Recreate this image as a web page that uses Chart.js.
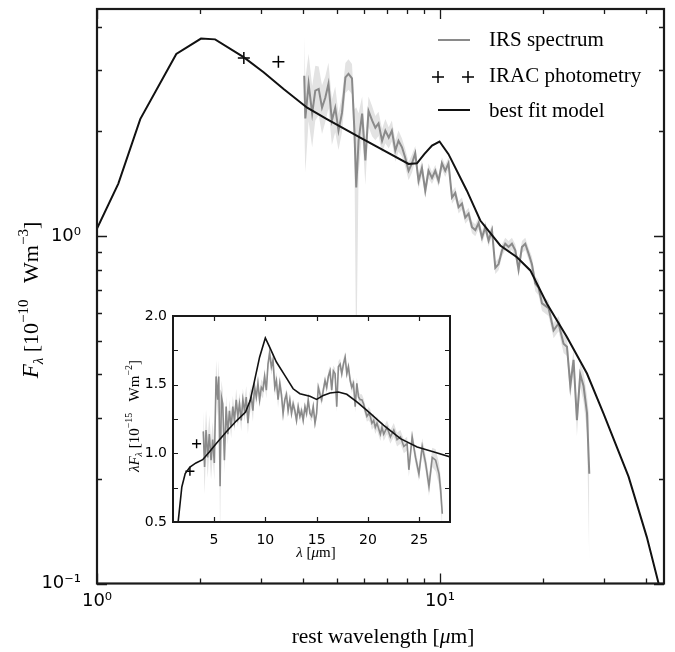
<!DOCTYPE html>
<html>
<head>
<meta charset="utf-8">
<script src="https://cdn.jsdelivr.net/npm/chart.js@4.4.1/dist/chart.umd.min.js"></script>
<style>
  html, body { margin: 0; padding: 0; background: #fff; }
  #wrap { position: relative; width: 675px; height: 652px; }
  canvas { position: absolute; left: 0; top: 0; }
</style>
</head>
<body>
<div id="wrap">
  <canvas id="main" width="675" height="652"></canvas>
  <canvas id="inset" width="675" height="652"></canvas>
</div>
<script>
// ---- main panel: F_lambda vs rest wavelength (log-log) ----
const modelWave = [1.0, 1.154, 1.337, 1.703, 2.01, 2.21, 2.676, 3.06, 3.50, 4.10, 4.68, 5.855, 8.10, 8.57, 9.0,
  9.48, 9.97, 10.59, 11.98, 13.11, 14.99, 16.77, 18.34, 20.51, 23.45, 26.83, 29.99, 35.47, 40.1, 43.4, 45.5];
const modelFlux = [1.05, 1.415, 2.17, 3.34, 3.70, 3.68, 3.27, 2.96, 2.65, 2.34, 2.17, 1.92, 1.612, 1.619, 1.72,
  1.82, 1.87, 1.72, 1.35, 1.108, 0.939, 0.869, 0.796, 0.638, 0.512, 0.402, 0.308, 0.203, 0.136, 0.1, 0.085];

const iracWave = [2.68, 3.38];
const iracFlux = [3.25, 3.17];

const irsWave = [
  4.02, 4.05, 4.14, 4.24, 4.33, 4.43, 4.53, 4.63, 4.73, 4.84,
  4.95, 5.06, 5.18, 5.30, 5.41, 5.54, 5.63, 5.70, 5.79, 5.93,
  6.06, 6.19, 6.34, 6.48, 6.62, 6.78, 6.93, 7.09, 7.24, 7.41,
  7.57, 7.75, 7.92, 8.10, 8.29, 8.47, 8.66, 8.86, 9.06, 9.26,
  9.48, 9.69, 9.91, 10.13, 10.36, 10.59, 10.84, 11.08, 11.33, 11.59,
  11.85, 12.12, 12.40, 12.68, 12.96, 13.26, 13.56, 13.86, 14.18, 14.50,
  14.82, 15.17, 15.50, 15.85, 16.21, 16.58, 16.95, 17.34, 17.73, 18.13,
  18.54, 18.96, 19.39, 19.84, 20.73, 21.44, 22.17, 22.93, 23.46, 23.99,
  24.52, 25.08, 25.64, 26.22, 26.83, 27.25];
const irsFlux = [
  2.89, 2.18, 2.74, 2.25, 2.62, 2.65, 2.34, 2.50, 2.74, 2.15,
  2.34, 2.01, 2.26, 2.86, 2.93, 2.84, 2.01, 1.38, 1.88, 2.25,
  1.65, 2.29, 2.15, 2.05, 2.11, 1.88, 2.01, 1.92, 2.01, 1.76,
  1.88, 1.80, 1.68, 1.54, 1.62, 1.73, 1.44, 1.57, 1.35, 1.54,
  1.47, 1.54, 1.44, 1.62, 1.54, 1.62, 1.29, 1.33, 1.21, 1.24,
  1.13, 1.16, 1.06, 1.04, 1.09, 0.99, 1.06, 0.97, 1.04, 0.81,
  0.83, 0.91, 0.95, 0.93, 0.95, 0.91, 0.80, 0.93, 0.95, 0.89,
  0.83, 0.73, 0.71, 0.64, 0.62, 0.535, 0.56, 0.49, 0.48, 0.37,
  0.44, 0.295, 0.40, 0.37, 0.31, 0.207];
// relative half-width of the shaded uncertainty band
const irsErr = [
  0.30, 0.30, 0.22, 0.20, 0.18, 0.16, 0.16, 0.15, 0.15, 0.15,
  0.15, 0.12, 0.12, 0.10, 0.10, 0.10, 0.15, 0.70, 0.20, 0.12,
  0.15, 0.10, 0.10, 0.08, 0.08, 0.08, 0.08, 0.07, 0.07, 0.07,
  0.07, 0.06, 0.06, 0.06, 0.06, 0.05, 0.05, 0.05, 0.05, 0.05,
  0.04, 0.04, 0.04, 0.04, 0.04, 0.04, 0.04, 0.04, 0.04, 0.04,
  0.04, 0.04, 0.04, 0.04, 0.04, 0.04, 0.04, 0.04, 0.04, 0.04,
  0.04, 0.04, 0.04, 0.04, 0.04, 0.04, 0.05, 0.04, 0.04, 0.04,
  0.05, 0.05, 0.05, 0.05, 0.05, 0.05, 0.05, 0.06, 0.06, 0.08,
  0.07, 0.10, 0.08, 0.10, 0.12, 0.45];

const xMajorTicks = [1, 10];
const xTickLabels = ['10\u2070', '10\u00b9'];
const xMinorTicks = [2, 3, 4, 5, 6, 7, 8, 9, 20, 30, 40];
const yMajorTicks = [0.1, 1];
const yTickLabels = ['10\u207b\u00b9', '10\u2070'];
const yMinorTicks = [0.2, 0.3, 0.4, 0.5, 0.6, 0.7, 0.8, 0.9, 2, 3, 4];

// ---- inset: lambda F_lambda vs lambda (linear) ----
const insetModelWave = [1.34, 1.50, 1.86, 2.19, 2.65, 3.24, 3.89, 4.54, 5.20, 6.18, 7.16, 8.07, 8.53, 8.95, 9.44,
  10.0, 10.42, 11.08, 11.90, 12.71, 13.37, 14.35, 15.0, 15.65, 16.31, 17.12, 17.94, 18.92, 19.9, 21.54,
  23.17, 24.8, 26.44, 28.07];
const insetModelFlux = [0.29, 0.50, 0.755, 0.852, 0.90, 0.93, 0.954, 1.01, 1.07, 1.155, 1.235, 1.30, 1.386, 1.53, 1.70,
  1.84, 1.774, 1.665, 1.568, 1.47, 1.434, 1.415, 1.393, 1.422, 1.439, 1.447, 1.43, 1.374, 1.313, 1.204,
  1.107, 1.046, 1.01, 0.973];

const insetIracWave = [2.65, 3.30];
const insetIracFlux = [0.87, 1.07];

const insetWave = [
  3.95, 4.08, 4.22, 4.38, 4.54, 4.71, 4.87, 5.03, 5.20, 5.36,
  5.46, 5.59, 5.72, 5.85, 6.01, 6.18, 6.34, 6.50, 6.67, 6.83,
  6.99, 7.16, 7.32, 7.48, 7.65, 7.81, 7.97, 8.14, 8.30, 8.46,
  8.63, 8.79, 8.95, 9.12, 9.28, 9.44, 9.61, 9.77, 9.93, 10.10,
  10.26, 10.42, 10.59, 10.75, 10.92, 11.08, 11.24, 11.41, 11.57, 11.73,
  11.90, 12.06, 12.22, 12.39, 12.55, 12.71, 12.88, 13.04, 13.20, 13.37,
  13.53, 13.69, 13.86, 14.02, 14.18, 14.35, 14.51, 14.67, 14.84, 15.00,
  15.16, 15.33, 15.49, 15.65, 15.82, 15.98, 16.14, 16.31, 16.47, 16.63,
  16.80, 16.96, 17.12, 17.29, 17.45, 17.61, 17.78, 17.94, 18.10, 18.27,
  18.43, 18.59, 18.76, 18.92, 19.08, 19.25, 19.41, 19.58, 19.74, 19.90,
  20.07, 20.23, 20.39, 20.56, 20.72, 20.88, 21.21, 21.37, 21.54, 21.86,
  22.19, 22.52, 22.84, 23.17, 23.50, 23.82, 23.99, 24.31, 24.64, 24.97,
  25.29, 25.62, 25.95, 26.27, 26.60, 26.93, 27.09, 27.25];
const insetFlux = [
  1.16, 0.90, 1.17, 0.97, 1.14, 0.95, 1.10, 0.93, 1.56, 1.39,
  1.56, 0.76, 1.41, 1.36, 0.95, 1.34, 1.14, 1.31, 1.19, 1.34,
  1.24, 1.39, 1.27, 1.36, 1.24, 1.39, 1.31, 1.41, 1.22, 1.36,
  1.41, 1.31, 1.48, 1.41, 1.51, 1.39, 1.48, 1.46, 1.56, 1.46,
  1.65, 1.73, 1.63, 1.68, 1.48, 1.53, 1.39, 1.51, 1.43, 1.29,
  1.39, 1.43, 1.31, 1.39, 1.29, 1.36, 1.31, 1.24, 1.34, 1.27,
  1.31, 1.24, 1.34, 1.29, 1.39, 1.29, 1.27, 1.34, 1.22, 1.29,
  1.48, 1.43, 1.39, 1.46, 1.53, 1.48, 1.56, 1.60, 1.46, 1.60,
  1.58, 1.34, 1.63, 1.65, 1.58, 1.65, 1.70, 1.58, 1.63, 1.53,
  1.48, 1.51, 1.34, 1.51, 1.41, 1.39, 1.39, 1.36, 1.31, 1.27,
  1.29, 1.27, 1.22, 1.24, 1.19, 1.22, 1.14, 1.19, 1.14, 1.19,
  1.12, 1.17, 1.10, 1.12, 1.05, 1.07, 0.88, 1.12, 0.97, 0.85,
  1.05, 0.93, 0.76, 0.97, 0.95, 0.85, 0.73, 0.56];
// absolute half-width of the shaded band in the inset
const insetErr = [
  0.15, 0.20, 0.15, 0.15, 0.14, 0.14, 0.13, 0.13, 0.12, 0.12,
  0.12, 0.40, 0.12, 0.10, 0.10, 0.08, 0.08, 0.08, 0.08, 0.08,
  0.08, 0.08, 0.08, 0.08, 0.08, 0.08, 0.08, 0.08, 0.08, 0.08,
  0.08, 0.08, 0.06, 0.06, 0.06, 0.06, 0.06, 0.06, 0.06, 0.06,
  0.06, 0.06, 0.06, 0.06, 0.06, 0.06, 0.06, 0.06, 0.06, 0.06,
  0.04, 0.04, 0.04, 0.04, 0.04, 0.04, 0.04, 0.04, 0.04, 0.04,
  0.04, 0.04, 0.04, 0.04, 0.04, 0.04, 0.04, 0.04, 0.04, 0.04,
  0.04, 0.04, 0.04, 0.04, 0.04, 0.04, 0.04, 0.04, 0.04, 0.04,
  0.04, 0.04, 0.04, 0.04, 0.04, 0.04, 0.04, 0.04, 0.04, 0.04,
  0.04, 0.04, 0.04, 0.04, 0.04, 0.04, 0.04, 0.04, 0.04, 0.04,
  0.05, 0.05, 0.05, 0.05, 0.05, 0.05, 0.05, 0.05, 0.05, 0.05,
  0.05, 0.05, 0.05, 0.05, 0.05, 0.05, 0.05, 0.05, 0.05, 0.05,
  0.06, 0.06, 0.07, 0.07, 0.08, 0.08, 0.10, 0.12];

const insetXTicks = [5, 10, 15, 20, 25];
const insetYTicks = [0.75, 1.0, 1.25, 1.5, 1.75];
const insetYLabelTicks = [0.5, 1.0, 1.5, 2.0];

const bandColor = '#e3e3e3';
const irsColor = '#8a8a8a';
const ink = '#111';
const serif = '"Liberation Serif"';

Chart.defaults.font.family = '"DejaVu Sans"';
Chart.defaults.color = '#000';

function pts(xs, ys) {
  return xs.map((x, i) => ({ x: x, y: ys[i] }));
}
function near(a, b) {
  return Math.abs(a - b) < 1e-6 * Math.max(1, Math.abs(b));
}
function labelFor(v, vals, labels) {
  const i = vals.findIndex(t => near(v, t));
  return i >= 0 ? labels[i] : '';
}
// fixed axis box sizes, no extra padding from label overhang
function fixX(h) {
  return s => { s.height = h; s.paddingLeft = 0; s.paddingRight = 0; };
}
function fixY(w) {
  return s => { s.width = w; s.paddingTop = 0; s.paddingBottom = 0; };
}

// mixed-font text (subscripts / superscripts), centred at (cx, cy)
function richText(ctx, parts, cx, cy, rot) {
  ctx.save();
  ctx.translate(cx, cy);
  if (rot) ctx.rotate(rot);
  let total = 0;
  parts.forEach(p => { ctx.font = p.f; p.w = ctx.measureText(p.t).width; total += p.w; });
  let x = -total / 2;
  ctx.textAlign = 'left';
  ctx.textBaseline = 'alphabetic';
  ctx.fillStyle = '#000';
  parts.forEach(p => { ctx.font = p.f; ctx.fillText(p.t, x, p.dy || 0); x += p.w; });
  ctx.restore();
}

// frame plus inward tick marks on all four sides
function axesPlugin(id, cfg) {
  return {
    id: id,
    beforeDraw(chart) {
      if (!cfg.fill) return;
      const a = chart.chartArea;
      chart.ctx.save();
      chart.ctx.fillStyle = '#fff';
      chart.ctx.fillRect(a.left, a.top, a.right - a.left, a.bottom - a.top);
      chart.ctx.restore();
    },
    afterDatasetsDraw(chart) {
      const ctx = chart.ctx, a = chart.chartArea;
      const xs = chart.scales.x, ys = chart.scales.y;
      ctx.save();
      ctx.strokeStyle = '#1a1a1a';
      ctx.lineWidth = cfg.tickWidth;
      ctx.beginPath();
      const tx = (v, len) => {
        const p = Math.round(xs.getPixelForValue(v)) + 0.5;
        ctx.moveTo(p, a.bottom); ctx.lineTo(p, a.bottom - len);
        ctx.moveTo(p, a.top); ctx.lineTo(p, a.top + len);
      };
      const ty = (v, len) => {
        const p = Math.round(ys.getPixelForValue(v)) + 0.5;
        ctx.moveTo(a.left, p); ctx.lineTo(a.left + len, p);
        ctx.moveTo(a.right, p); ctx.lineTo(a.right - len, p);
      };
      cfg.xMajor.forEach(v => tx(v, cfg.major));
      cfg.xMinor.forEach(v => tx(v, cfg.minor));
      cfg.yMajor.forEach(v => ty(v, cfg.major));
      cfg.yMinor.forEach(v => ty(v, cfg.minor));
      ctx.stroke();
      ctx.lineWidth = cfg.frameWidth;
      ctx.strokeRect(a.left, a.top, a.right - a.left, a.bottom - a.top);
      ctx.restore();
    }
  };
}

const mainLabels = {
  id: 'mainLabels',
  afterDraw(chart) {
    const ctx = chart.ctx;
    // axis titles
    richText(ctx, [
      { t: 'rest wavelength [', f: '21.5px ' + serif },
      { t: '\u03bc', f: 'italic 21.5px ' + serif },
      { t: 'm]', f: '21.5px ' + serif }
    ], 383, 643);
    richText(ctx, [
      { t: 'F', f: 'italic 23px ' + serif },
      { t: '\u03bb', f: 'italic 15px ' + serif, dy: 5 },
      { t: ' [10', f: '22px ' + serif },
      { t: '\u221210', f: '15px ' + serif, dy: -10 },
      { t: '   Wm', f: '22px ' + serif },
      { t: '\u22123', f: '15px ' + serif, dy: -10 },
      { t: ']', f: '22px ' + serif }
    ], 38, 300, -Math.PI / 2);

    // legend
    ctx.save();
    ctx.lineCap = 'butt';
    ctx.lineWidth = 2;
    ctx.strokeStyle = irsColor;
    ctx.beginPath(); ctx.moveTo(438, 40); ctx.lineTo(470, 40); ctx.stroke();
    ctx.strokeStyle = ink;
    ctx.beginPath(); ctx.moveTo(438, 110); ctx.lineTo(470, 110); ctx.stroke();
    ctx.lineWidth = 1.5;
    ctx.strokeStyle = '#000';
    ctx.beginPath();
    [438, 468].forEach(px => {
      ctx.moveTo(px - 6, 77); ctx.lineTo(px + 6, 77);
      ctx.moveTo(px, 71); ctx.lineTo(px, 83);
    });
    ctx.stroke();
    ctx.fillStyle = '#000';
    ctx.font = '21px ' + serif;
    ctx.textAlign = 'left';
    ctx.textBaseline = 'alphabetic';
    ctx.fillText('IRS spectrum', 489, 46);
    ctx.fillText('IRAC photometry', 489, 82);
    ctx.fillText('best fit model', 489, 117);
    ctx.restore();
  }
};

new Chart(document.getElementById('main'), {
  type: 'line',
  data: {
    datasets: [
      { label: 'best fit model', data: pts(modelWave, modelFlux), borderColor: ink, borderWidth: 2,
        pointRadius: 0, fill: false, tension: 0 },
      { label: 'IRAC photometry', data: pts(iracWave, iracFlux), showLine: false, pointStyle: 'cross',
        pointRadius: 6, borderColor: '#000', borderWidth: 1.5, backgroundColor: '#000' },
      { label: 'IRS spectrum', data: pts(irsWave, irsFlux), borderColor: irsColor, borderWidth: 2,
        pointRadius: 0, fill: false },
      { label: 'IRS upper', data: irsWave.map((w, i) => ({ x: w, y: irsFlux[i] * (1 + irsErr[i]) })),
        borderWidth: 0, borderColor: 'rgba(0,0,0,0)', pointRadius: 0, fill: '+1', backgroundColor: bandColor },
      { label: 'IRS lower', data: irsWave.map((w, i) => ({ x: w, y: irsFlux[i] * (1 - irsErr[i]) })),
        borderWidth: 0, borderColor: 'rgba(0,0,0,0)', pointRadius: 0, fill: false }
    ]
  },
  options: {
    responsive: false,
    animation: false,
    devicePixelRatio: 1,
    layout: { padding: { left: 0, top: 9, right: 11, bottom: 0 } },
    plugins: { legend: { display: false }, tooltip: { enabled: false } },
    scales: {
      x: {
        type: 'logarithmic', min: 1, max: 45,
        grid: { display: false, drawTicks: false }, border: { display: false },
        ticks: { autoSkip: false, maxRotation: 0, padding: 7, font: { size: 18 }, color: '#000',
          callback: v => labelFor(v, xMajorTicks, xTickLabels) },
        afterFit: fixX(68.5)
      },
      y: {
        type: 'logarithmic', min: 0.1, max: 4.5,
        grid: { display: false, drawTicks: false }, border: { display: false },
        ticks: { autoSkip: false, padding: 16, font: { size: 18 }, color: '#000',
          callback: v => labelFor(v, yMajorTicks, yTickLabels) },
        afterFit: fixY(97)
      }
    }
  },
  plugins: [
    axesPlugin('mainAxes', { xMajor: xMajorTicks, xMinor: xMinorTicks, yMajor: yMajorTicks, yMinor: yMinorTicks,
      major: 10, minor: 5, tickWidth: 1.3, frameWidth: 2.2, fill: false }),
    mainLabels
  ]
});

const insetLabels = {
  id: 'insetLabels',
  afterDraw(chart) {
    const ctx = chart.ctx;
    richText(ctx, [
      { t: '\u03bb', f: 'italic 15px ' + serif },
      { t: ' [', f: '15px ' + serif },
      { t: '\u03bc', f: 'italic 15px ' + serif },
      { t: 'm]', f: '15px ' + serif }
    ], 316, 557);
    richText(ctx, [
      { t: '\u03bbF', f: 'italic 15px ' + serif },
      { t: '\u03bb', f: 'italic 10px ' + serif, dy: 3 },
      { t: ' [10', f: '15px ' + serif },
      { t: '\u221215', f: '10px ' + serif, dy: -7 },
      { t: '   Wm', f: '15px ' + serif },
      { t: '\u22122', f: '10px ' + serif, dy: -7 },
      { t: ']', f: '15px ' + serif }
    ], 139, 416, -Math.PI / 2);
  }
};

new Chart(document.getElementById('inset'), {
  type: 'line',
  data: {
    datasets: [
      { label: 'best fit model', data: pts(insetModelWave, insetModelFlux), borderColor: ink, borderWidth: 1.6,
        pointRadius: 0, fill: false },
      { label: 'IRAC photometry', data: pts(insetIracWave, insetIracFlux), showLine: false, pointStyle: 'cross',
        pointRadius: 4.5, borderColor: '#000', borderWidth: 1.4 },
      { label: 'IRS spectrum', data: pts(insetWave, insetFlux), borderColor: irsColor, borderWidth: 1.6,
        pointRadius: 0, fill: false },
      { label: 'IRS upper', data: insetWave.map((w, i) => ({ x: w, y: insetFlux[i] + insetErr[i] })),
        borderWidth: 0, borderColor: 'rgba(0,0,0,0)', pointRadius: 0, fill: '+1', backgroundColor: bandColor },
      { label: 'IRS lower', data: insetWave.map((w, i) => ({ x: w, y: insetFlux[i] - insetErr[i] })),
        borderWidth: 0, borderColor: 'rgba(0,0,0,0)', pointRadius: 0, fill: false }
    ]
  },
  options: {
    responsive: false,
    animation: false,
    devicePixelRatio: 1,
    layout: { padding: { left: 0, top: 316, right: 225, bottom: 0 } },
    plugins: { legend: { display: false }, tooltip: { enabled: false } },
    scales: {
      x: {
        type: 'linear', min: 1, max: 28,
        grid: { display: false, drawTicks: false }, border: { display: false },
        ticks: { autoSkip: false, maxRotation: 0, stepSize: 5, padding: 10, font: { size: 14 }, color: '#000',
          callback: v => insetXTicks.some(t => near(v, t)) ? String(v) : '' },
        afterFit: fixX(130)
      },
      y: {
        type: 'linear', min: 0.5, max: 2.0,
        grid: { display: false, drawTicks: false }, border: { display: false },
        ticks: { autoSkip: false, stepSize: 0.25, padding: 6, font: { size: 14 }, color: '#000',
          callback: v => insetYLabelTicks.some(t => near(v, t)) ? v.toFixed(1) : '' },
        afterFit: fixY(173)
      }
    }
  },
  plugins: [
    axesPlugin('insetAxes', { xMajor: insetXTicks, xMinor: [], yMajor: insetYTicks, yMinor: [],
      major: 5, minor: 3, tickWidth: 1.2, frameWidth: 2, fill: true }),
    insetLabels
  ]
});
</script>
</body>
</html>
